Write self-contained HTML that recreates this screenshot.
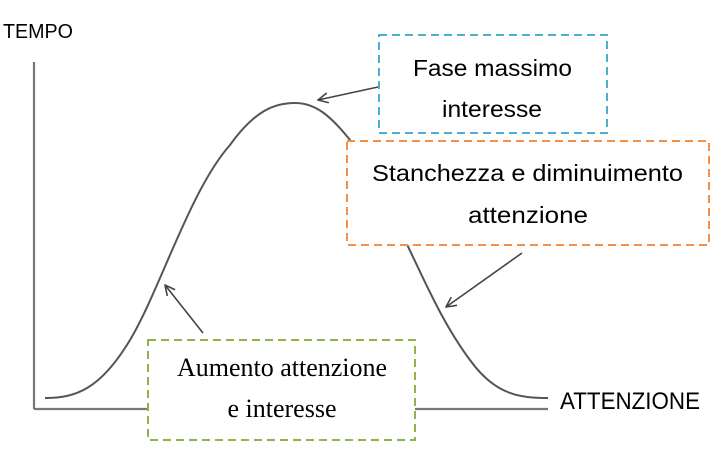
<!DOCTYPE html>
<html><head><style>
body{margin:0;background:#fff;width:713px;height:449px;overflow:hidden}
</style></head><body>
<svg width="713" height="449" xmlns="http://www.w3.org/2000/svg">
<defs><marker id="a" markerWidth="12" markerHeight="12" refX="11" refY="6" orient="auto" markerUnits="userSpaceOnUse"><path d="M1,1 L11,6 L1,11" fill="none" stroke="#444" stroke-width="1.6"/></marker></defs>
<g stroke="#777" stroke-width="2.2" fill="none">
<line x1="34" y1="62" x2="34" y2="409"/>
<line x1="34" y1="409" x2="148" y2="409"/>
<line x1="415" y1="409" x2="548" y2="409"/>
</g>
<path d="M45,398 C75,398 100,390 130,340 C160,290 190,190 230,145 C255,110 275,103 295,103 C315,103 330,115 350,140 L400,230 C420,270 440,320 470,360 C495,395 520,398 548,398" fill="none" stroke="#555" stroke-width="2"/>
<rect x="347" y="141" width="362" height="104" fill="#fff" stroke="#f0904a" stroke-width="2" stroke-dasharray="8,5"/>
<rect x="148" y="340" width="267" height="100" fill="#fff" stroke="#8fb54a" stroke-width="2" stroke-dasharray="8,5"/>
<rect x="379" y="35" width="228" height="98" fill="#fff" stroke="#4ab0cc" stroke-width="2" stroke-dasharray="8,5"/>
<g stroke="#444" stroke-width="1.6" fill="none">
<line x1="378" y1="87" x2="318" y2="100" marker-end="url(#a)"/>
<line x1="522" y1="253" x2="446" y2="307" marker-end="url(#a)"/>
<line x1="203" y1="333" x2="165" y2="285" marker-end="url(#a)"/>
</g>
<g font-family="'Liberation Sans',sans-serif" fill="#000" font-size="23">
<text x="413" y="76" textLength="159" lengthAdjust="spacingAndGlyphs">Fase massimo</text>
<text x="442" y="117" textLength="100" lengthAdjust="spacingAndGlyphs">interesse</text>
<text x="372" y="181" textLength="311" lengthAdjust="spacingAndGlyphs">Stanchezza e diminuimento</text>
<text x="468" y="223" textLength="120" lengthAdjust="spacingAndGlyphs">attenzione</text>
<text x="560" y="409" font-size="24" textLength="140" lengthAdjust="spacingAndGlyphs">ATTENZIONE</text>
<text x="3" y="38" font-size="20" textLength="70" lengthAdjust="spacingAndGlyphs">TEMPO</text>
</g>
<g font-family="'Liberation Serif',serif" fill="#000" text-anchor="middle" font-size="26">
<text x="282" y="376">Aumento attenzione</text>
<text x="282" y="417">e interesse</text>
</g>
</svg>
</body></html>
